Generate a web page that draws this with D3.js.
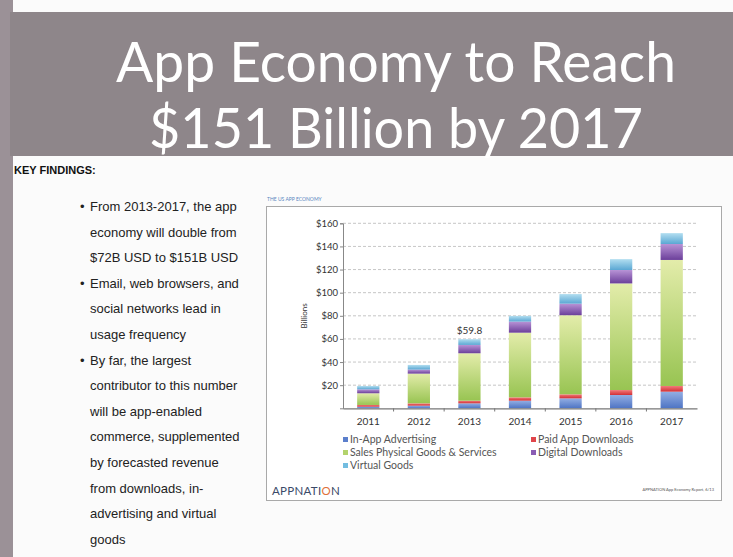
<!DOCTYPE html>
<html><head><meta charset="utf-8">
<script src="https://cdn.jsdelivr.net/npm/d3@7"></script>
<style>
html,body{margin:0;padding:0;background:#fbfbfb;}
svg{display:block;}
</style></head>
<body>
<svg id="c" width="733" height="557"></svg>
<script>
// ---------- data ----------
const years = ["2011","2012","2013","2014","2015","2016","2017"];
const seriesNames = ["In-App Advertising","Paid App Downloads","Sales Physical Goods & Services","Digital Downloads","Virtual Goods"];
const inAppAdvertising = [1.4, 2.3, 4.3, 6.6, 8.6, 11.5, 14.4];
const paidAppDownloads = [1.5, 2.0, 2.3, 2.9, 3.5, 4.3, 4.9];
const salesPhysical    = [10.1, 25.7, 41.0, 55.9, 68.4, 92.2, 109.0];
const digitalDownloads = [3.4, 3.5, 7.2, 9.6, 10.0, 11.6, 13.8];
const virtualGoods     = [2.9, 4.0, 5.0, 4.9, 8.3, 9.4, 9.4];
const yTicks = [20,40,60,80,100,120,140,160];
const annotation = {year:"2013", label:"$59.8"};
const titleLines = ["App Economy to Reach","$151 Billion by 2017"];
const bulletLines = [
  ["From 2013-2017, the app","economy will double from","$72B USD to $151B USD"],
  ["Email, web browsers, and","social networks lead in","usage frequency"],
  ["By far, the largest","contributor to this number","will be app-enabled","commerce, supplemented","by forecasted revenue","from downloads, in-","advertising and virtual","goods"]
];

const seriesValues = [inAppAdvertising, paidAppDownloads, salesPhysical, digitalDownloads, virtualGoods];
const table = years.map((y,i)=>{const o={year:y}; seriesNames.forEach((n,k)=>o[n]=seriesValues[k][i]); return o;});

const colors = {
  "In-App Advertising":["#93aee3","#4e74c4"],
  "Paid App Downloads":["#f27a7a","#d22f35"],
  "Sales Physical Goods & Services":["#e3ecaa","#98c452"],
  "Digital Downloads":["#b893d6","#6b3f9a"],
  "Virtual Goods":["#b2def0","#5aa7d3"]
};
const legendColors = {
  "In-App Advertising":"#5b7fcc",
  "Paid App Downloads":"#e0454b",
  "Sales Physical Goods & Services":"#b3d36c",
  "Digital Downloads":"#8a5cb4",
  "Virtual Goods":"#73bde0"
};

const svg = d3.select("#c");
const defs = svg.append("defs");
seriesNames.forEach((n,i)=>{
  const g = defs.append("linearGradient").attr("id","g"+i).attr("x1",0).attr("y1",0).attr("x2",0).attr("y2",1);
  g.append("stop").attr("offset","0%").attr("stop-color",colors[n][0]);
  g.append("stop").attr("offset","100%").attr("stop-color",colors[n][1]);
});

// ---------- slide ----------
svg.append("rect").attr("x",0).attr("y",0).attr("width",733).attr("height",557).attr("fill","#fbfbfb");
svg.append("rect").attr("x",0).attr("y",0).attr("width",13).attr("height",557).attr("fill","#9b9197");
svg.append("rect").attr("x",10).attr("y",12).attr("width",723).attr("height",144).attr("fill","#8e868a");

const titleFont = "Lato, 'Open Sans', sans-serif";
const tl = [{t:titleLines[0], y:82, w:560},{t:titleLines[1], y:148, w:494}];
tl.forEach(d=>{
  const g = svg.append("g");
  const t = g.append("text").attr("x",0).attr("y",0).attr("text-anchor","middle")
    .attr("fill","#ffffff").style("font-family",titleFont).style("font-size","57px").text(d.t);
  const len = t.node().getComputedTextLength();
  g.attr("transform",`translate(396,${d.y}) scale(${(d.w/len).toFixed(4)},1)`);
});

svg.append("text").attr("x",14).attr("y",174).attr("fill","#111")
  .style("font-family","'Liberation Sans', Arial, sans-serif").style("font-weight","bold").style("font-size","11px")
  .text("KEY FINDINGS:");

let line = 0;
const bodyFont = "'Liberation Sans', Arial, sans-serif";
bulletLines.forEach(b=>{
  b.forEach((s,j)=>{
    const y = 211 + line*25.6;
    if(j===0) svg.append("text").attr("x",80).attr("y",y).attr("fill","#222").style("font-family",bodyFont).style("font-size","13px").text("•");
    svg.append("text").attr("x",90).attr("y",y).attr("fill","#222").style("font-family",bodyFont).style("font-size","13px").text(s);
    line++;
  });
});

// ---------- chart frame ----------
svg.append("rect").attr("x",266.5).attr("y",206.5).attr("width",455).attr("height",294)
  .attr("fill","#ffffff").attr("stroke","#a9a9a9").attr("stroke-width",1);
const chartFont = "Lato, 'Open Sans', sans-serif";
svg.append("text").attr("x",267).attr("y",201).attr("fill","#5a86c0").style("font-family",chartFont)
  .style("font-size","5px").text("THE US APP ECONOMY");

const x = d3.scaleBand().domain(years).range([343,697]).paddingInner(0.56).paddingOuter(0.28);
const y = d3.scaleLinear().domain([0,160]).range([408.3,223.3]);

// grid
svg.append("g").selectAll("line").data(yTicks).join("line")
  .attr("x1",343).attr("x2",697).attr("y1",d=>y(d)).attr("y2",d=>y(d))
  .attr("stroke","#b8b8b8").attr("stroke-width",0.8).attr("stroke-dasharray","3,2");

// y axis
const ya = svg.append("g").attr("transform","translate(343,0)")
  .call(d3.axisLeft(y).tickValues(yTicks).tickSize(3).tickFormat(d=>"$"+d));
ya.select(".domain").attr("stroke","#888");
ya.selectAll(".tick line").attr("stroke","#888");
ya.selectAll("text").attr("fill","#333").style("font-family",chartFont).style("font-size","9.5px").attr("x",-5);

// bars
const stack = d3.stack().keys(seriesNames)(table);
svg.append("g").selectAll("g").data(stack).join("g")
  .attr("fill",(d,i)=>"url(#g"+i+")")
  .selectAll("rect").data(d=>d).join("rect")
  .attr("x",d=>x(d.data.year)).attr("width",x.bandwidth())
  .attr("y",d=>y(d[1])).attr("height",d=>y(d[0])-y(d[1]));

// x axis
const xa = svg.append("g").attr("transform","translate(0,408.3)")
  .call(d3.axisBottom(x).tickSize(0).tickPadding(10));
xa.select(".domain").attr("stroke","#777").attr("stroke-width",1.2);
xa.selectAll("text").attr("fill","#333").style("font-family",chartFont).style("font-size","10px");
const bounds = years.slice(1).map(yv=>x(yv)-x.step()*x.paddingInner()/2);
svg.append("g").selectAll("line").data(bounds).join("line")
  .attr("x1",d=>d).attr("x2",d=>d).attr("y1",408.3).attr("y2",411.5).attr("stroke","#777");

// y label
svg.append("text").attr("transform","translate(307,316) rotate(-90)").attr("text-anchor","middle")
  .attr("fill","#333").style("font-family",chartFont).style("font-size","8px").text("Billions");

// annotation
const annTotal = d3.sum(seriesValues, s=>s[years.indexOf(annotation.year)]);
svg.append("text").attr("x",x(annotation.year)+x.bandwidth()/2).attr("y",y(annTotal)-5)
  .attr("text-anchor","middle").attr("fill","#333").style("font-family",chartFont).style("font-size","10px")
  .text(annotation.label);

// legend
const legPos = [[345,443],[533,443],[345,456],[533,456],[345,469]];
const lg = svg.append("g").selectAll("g").data(seriesNames).join("g")
  .attr("transform",(d,i)=>`translate(${legPos[i][0]},${legPos[i][1]})`);
lg.append("rect").attr("x",-2).attr("y",-6).attr("width",5).attr("height",5).attr("fill",d=>legendColors[d]);
lg.append("text").attr("x",5).attr("y",0).attr("fill","#555").style("font-family",chartFont).style("font-size","10.5px").text(d=>d);

// brand
const brand = svg.append("text").attr("x",272).attr("y",495).attr("fill","#3b4a68")
  .style("font-family",chartFont).style("font-size","11.5px").style("letter-spacing","0.3px");
brand.append("tspan").text("APPNATI");
brand.append("tspan").attr("fill","#e0703a").text("O");
brand.append("tspan").text("N");
svg.append("text").attr("x",714).attr("y",491).attr("text-anchor","end").attr("fill","#555")
  .style("font-family",chartFont).style("font-size","4px").text("APPNATION App Economy Report, 6/13");
</script>
</body></html>
